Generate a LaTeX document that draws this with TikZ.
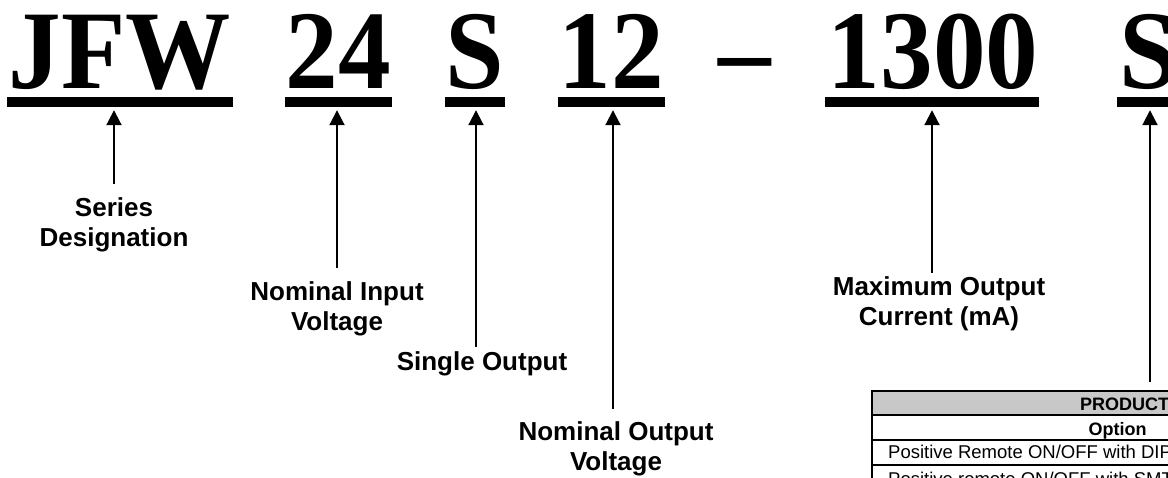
\documentclass[tikz,border=0pt]{standalone}
\usepackage{fontspec}
\setmainfont{Liberation Sans}
\newfontfamily\codefont[FakeStretch=0.94]{Liberation Serif}
\usetikzlibrary{arrows.meta}
\tikzset{
	code/.style={font=\codefont\bfseries\fontsize{112}{112}\selectfont, anchor=base, inner sep=0pt},
	bar/.style={fill=black, inner sep=0pt, minimum height=10pt},
	lbl/.style={font=\bfseries\fontsize{26}{30}\selectfont, align=center, anchor=base, inner sep=0pt},
	pin/.style={line width=2pt, -{Triangle[width=15pt,length=15pt]}, shorten >=3pt},
	cell/.style={font=\fontsize{18.5}{20}\selectfont, anchor=base, inner sep=0pt},
	grid/.style={line width=2pt}
}
\definecolor{hdrgray}{RGB}{200,200,200}

\begin{document}
\begin{tikzpicture}[x=1pt,y=-1pt]
	\useasboundingbox (0,0) rectangle (1168,477);
	\clip (0,0) rectangle (1168,477);
	\node[code] (jfw) at (120,88) {JFW};
	\node[code] (vin) at (338.5,88) {24};
	\node[code] (single) at (475,88) {S};
	\node[code] (vout) at (611.5,88) {12};
	\node[code] (dash) at (745,88) {\textendash};
	\node[code] (imax) at (933,88) {1300};
	\node[code] (opt) at (1148.5,88) {S};
	\node[bar, minimum width=226pt] (ujfw) at (120,102) {};
	\node[bar, minimum width=107pt] (uvin) at (338.5,102) {};
	\node[bar, minimum width=60pt] (usingle) at (475,102) {};
	\node[bar, minimum width=107pt] (uvout) at (611.5,102) {};
	\node[bar, minimum width=214pt] (uimax) at (932,102) {};
	\node[bar, minimum width=120pt] (uopt) at (1177,102) {};
	\node[lbl] (series) at (114,246) {Series\\Designation};
	\node[lbl] (input) at (337,330) {Nominal Input\\Voltage};
	\node[lbl] (oneout) at (482,370) {Single Output};
	\node[lbl] (output) at (616,470) {Nominal Output\\Voltage};
	\node[lbl] (current) at (939,325) {Maximum Output\\Current (mA)};
	\coordinate (tseries) at (114,184);
	\coordinate (tinput) at (337,268);
	\coordinate (toneout) at (476,347);
	\coordinate (toutput) at (613,409);
	\coordinate (tcurrent) at (932,273);
	\coordinate (toption) at (1150,382);
	\draw[pin] (tseries) -- (tseries |- ujfw.south);
	\draw[pin] (tinput) -- (tinput |- uvin.south);
	\draw[pin] (toneout) -- (toneout |- usingle.south);
	\draw[pin] (toutput) -- (toutput |- uvout.south);
	\draw[pin] (tcurrent) -- (tcurrent |- uimax.south);
	\draw[pin] (toption) -- (toption |- uopt.south);
	\fill[hdrgray] (872,391) rectangle (1300,415);
	\draw[grid] (872,500) -- (872,391) -- (1300,391);
	\foreach \y in {415,440,465}
		\draw[grid] (872,\y) -- (1300,\y);
	\node[cell, anchor=base west, font=\bfseries\fontsize{18}{20}\selectfont] (hdr) at (1080,410) {PRODUCT};
	\node[cell, font=\bfseries\fontsize{18}{20}\selectfont] (colopt) at (1117.5,435) {Option};
	\node[cell, anchor=base west] (rowdip) at (888,458) {Positive Remote ON/OFF with DIP};
	\node[cell, anchor=base west] (rowsmt) at (888,485) {Positive remote ON/OFF with SMT};
\end{tikzpicture}
\end{document}
